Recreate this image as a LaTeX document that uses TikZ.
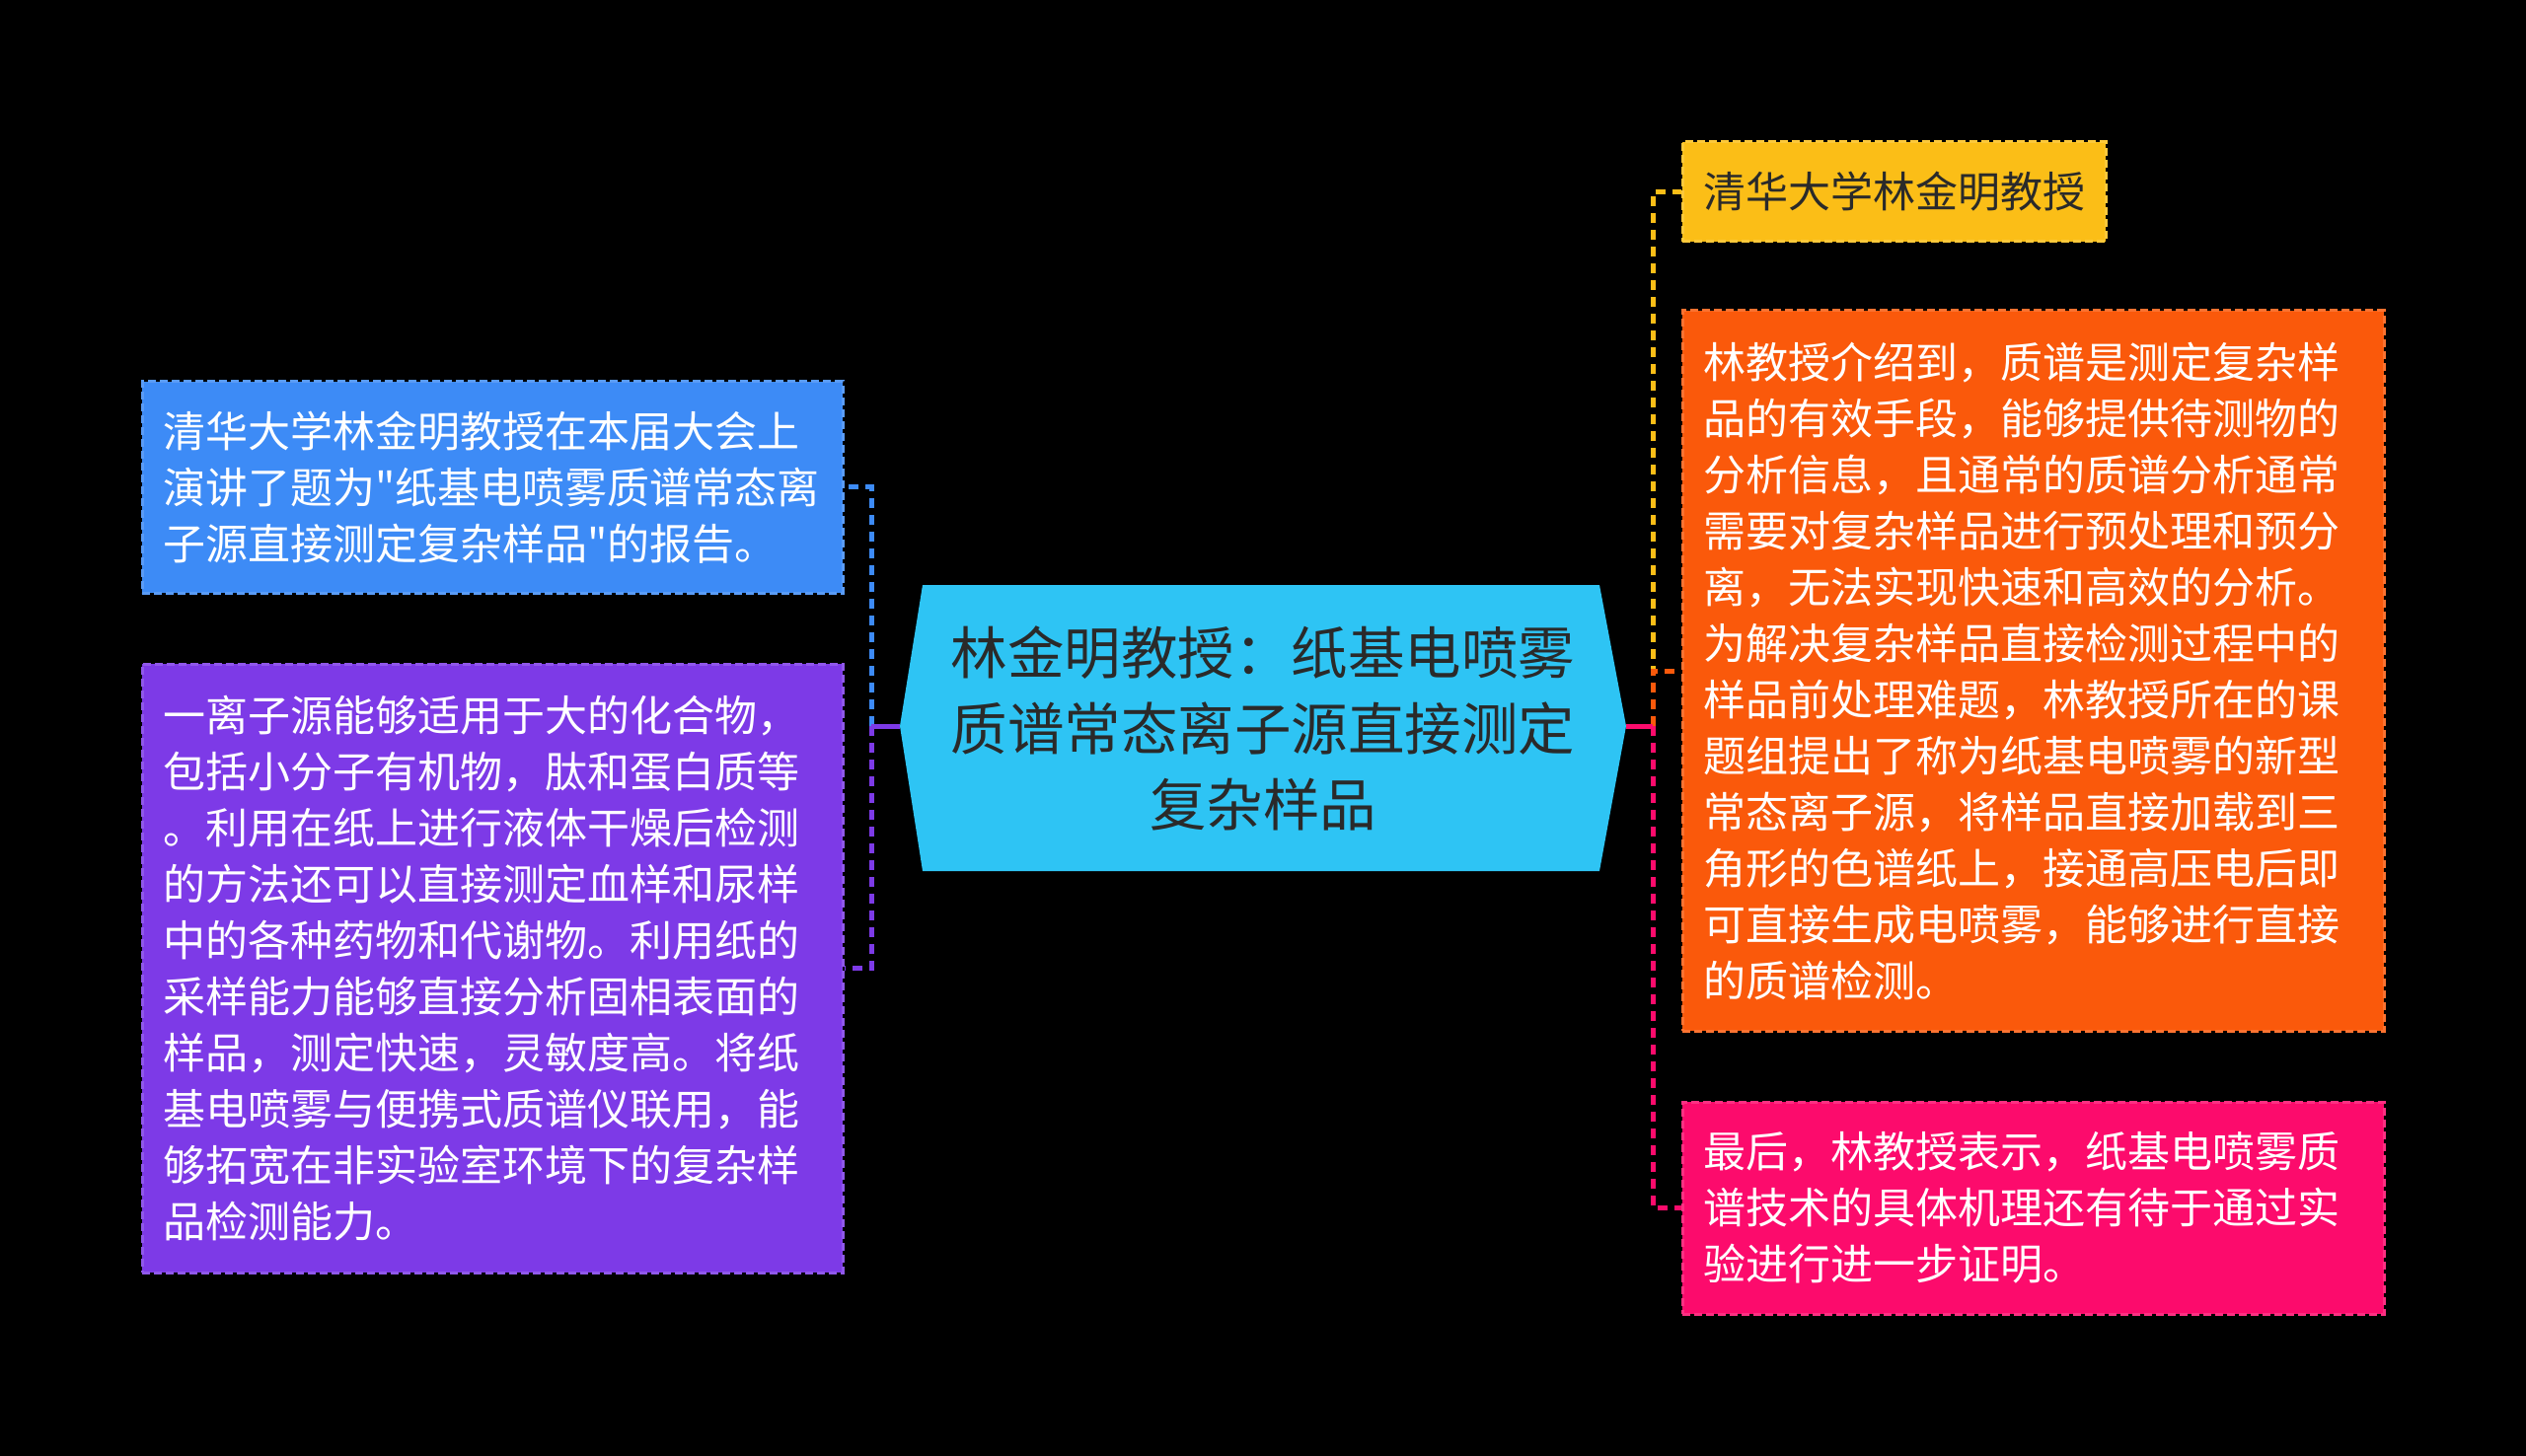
\documentclass[tikz,border=0pt]{standalone}
\usepackage{fontspec}
\setmainfont{Noto Sans CJK SC}[Ligatures=TeXOff]
\definecolor{bgc}{HTML}{000000}
\definecolor{cyanc}{HTML}{2EC4F4}
\definecolor{bluec}{HTML}{3D8BF6}
\definecolor{purplec}{HTML}{7D3AE7}
\definecolor{yellowc}{HTML}{FBBE17}
\definecolor{orangec}{HTML}{FA590B}
\definecolor{pinkc}{HTML}{FC0B6C}
\definecolor{darktext}{HTML}{2A2A2A}
\tikzset{
  box/.style={rectangle, inner sep=0pt, align=left, font=\fontsize{21.5pt}{28.5pt}\selectfont,
    line width=1.5pt, dash pattern=on 4pt off 2pt},
  conn/.style={line width=2.5pt, dash pattern=on 5pt off 3.5pt},
  solidconn/.style={line width=2.5pt},
}
\begin{document}
\begin{tikzpicture}[x=1pt,y=-1pt]
\fill[bgc] (0,0) rectangle (1280,738);
\useasboundingbox (0,0) rectangle (1280,738);

% central hexagon
\fill[cyanc] (467.5,296.5) -- (810.5,296.5) -- (824,368) -- (810.5,441.5) -- (467.5,441.5) -- (456,368) -- cycle;
\coordinate (hexL) at (456,368);
\coordinate (hexR) at (824,368);
\node[align=center, text=darktext, font=\fontsize{28.75pt}{38.5pt}\selectfont] (ctr) at (640,369)
  {林金明教授：纸基电喷雾\\质谱常态离子源直接测定\\复杂样品};

% left boxes
\node[box, fill=bluec, draw=bluec!85!white, text=white, minimum width=355pt, minimum height=107pt,
  text width=334pt] (blue) at (249.5,247)
  {清华大学林金明教授在本届大会上\\演讲了题为"纸基电喷雾质谱常态离\\子源直接测定复杂样品"的报告。};
\node[box, fill=purplec, draw=purplec!85!white, text=white, minimum width=355pt, minimum height=308.5pt,
  text width=334pt] (purple) at (249.5,490.75)
  {一离子源能够适用于大的化合物，\\包括小分子有机物，肽和蛋白质等\\。利用在纸上进行液体干燥后检测\\的方法还可以直接测定血样和尿样\\中的各种药物和代谢物。利用纸的\\采样能力能够直接分析固相表面的\\样品，测定快速，灵敏度高。将纸\\基电喷雾与便携式质谱仪联用，能\\够拓宽在非实验室环境下的复杂样\\品检测能力。};

% right boxes
\node[box, fill=yellowc, draw=yellowc!85!white, text=darktext, minimum width=214.5pt, minimum height=50.5pt,
  text width=193.5pt] (yellow) at (959.75,97.25)
  {清华大学林金明教授};
\node[box, fill=orangec, draw=orangec!85!white, text=white, minimum width=355.5pt, minimum height=365pt,
  text width=334pt] (orange) at (1030.25,340)
  {林教授介绍到，质谱是测定复杂样\\品的有效手段，能够提供待测物的\\分析信息，且通常的质谱分析通常\\需要对复杂样品进行预处理和预分\\离，无法实现快速和高效的分析。\\为解决复杂样品直接检测过程中的\\样品前处理难题，林教授所在的课\\题组提出了称为纸基电喷雾的新型\\常态离子源，将样品直接加载到三\\角形的色谱纸上，接通高压电后即\\可直接生成电喷雾，能够进行直接\\的质谱检测。};
\node[box, fill=pinkc, draw=pinkc!85!white, text=white, minimum width=355.5pt, minimum height=107.5pt,
  text width=334pt] (pink) at (1030.25,612.25)
  {最后，林教授表示，纸基电喷雾质\\谱技术的具体机理还有待于通过实\\验进行进一步证明。};

% left connectors
\coordinate (jL) at (441.5,368);
\draw[conn, bluec] (jL) |- (blue.east);
\draw[conn, purplec] (jL) |- (purple.east);
\draw[solidconn, purplec] (hexL) -- (jL);

% right connectors
\coordinate (jR) at (837.5,368);
\draw[conn, yellowc] (jR) |- (yellow.west);
\draw[conn, orangec] (jR) |- (orange.west);
\draw[conn, pinkc] (jR) |- (pink.west);
\draw[solidconn, pinkc] (hexR) -- (jR);
\end{tikzpicture}
\end{document}
